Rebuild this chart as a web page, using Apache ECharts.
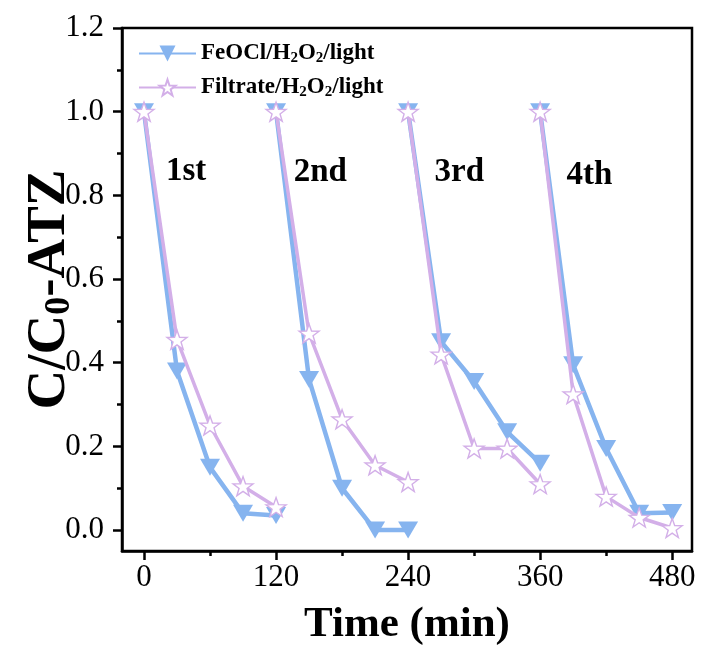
<!DOCTYPE html>
<html>
<head>
<meta charset="utf-8">
<script src="https://cdn.jsdelivr.net/npm/echarts@6/dist/echarts.min.js"></script>
<style>
html,body{margin:0;padding:0;background:#fff;}
#chart{width:702px;height:648px;}
</style>
</head>
<body>
<div id="chart"></div>
<script>
// ---- data ----
var cycleTimes = [
  [0, 30, 60, 90, 120],
  [120, 150, 180, 210, 240],
  [240, 270, 300, 330, 360],
  [360, 390, 420, 450, 480]
];
var feoclValues = [
  [1.0, 0.38, 0.15, 0.04, 0.035],
  [1.0, 0.36, 0.10, 0.0, 0.0],
  [1.0, 0.45, 0.355, 0.235, 0.16],
  [1.0, 0.395, 0.195, 0.04, 0.042]
];
var filtrateValues = [
  [1.0, 0.455, 0.25, 0.105, 0.055],
  [1.0, 0.47, 0.265, 0.155, 0.115],
  [1.0, 0.42, 0.195, 0.195, 0.11],
  [1.0, 0.325, 0.08, 0.03, 0.005]
];
var seriesNames = ['FeOCl/H2O2/light', 'Filtrate/H2O2/light'];
var cycleLabels = ['1st', '2nd', '3rd', '4th'];
var cycleLabelAnchors = [[20, 0.897], [136, 0.893], [264, 0.895], [384, 0.887]];
var xMajorTicks = [0, 120, 240, 360, 480];
var xMinorTicks = [60, 180, 300, 420];
var yMajorTicks = [0.0, 0.2, 0.4, 0.6, 0.8, 1.0, 1.2];
var yMinorTicks = [0.1, 0.3, 0.5, 0.7, 0.9, 1.1];

var FONT = "'Liberation Serif', 'Times New Roman', serif";
var BLUE = '#86b4ef';
var PURPLE = '#d3afe8';
var STAR = 'path://M0,-10 L2.35,-3.24 L9.51,-3.09 L3.8,1.24 L5.88,8.09 L0,4 L-5.88,8.09 L-3.8,1.24 L-9.51,-3.09 L-2.35,-3.24 Z';

function pairs(ti, vals) {
  return ti.map(function (t, i) { return [t, vals[i]]; });
}

var series = [];
cycleTimes.forEach(function (ti, c) {
  series.push({
    name: seriesNames[0], type: 'line', xAxisIndex: 0, yAxisIndex: 0,
    data: pairs(ti, feoclValues[c]),
    symbol: 'triangle', symbolRotate: 180, symbolSize: [20, 17],
    lineStyle: { color: BLUE, width: 4.5 },
    itemStyle: { color: BLUE, borderWidth: 0 },
    z: 2, animation: false
  });
});
cycleTimes.forEach(function (ti, c) {
  series.push({
    name: seriesNames[1], type: 'line', xAxisIndex: 0, yAxisIndex: 0,
    data: pairs(ti, filtrateValues[c]),
    symbol: STAR, symbolSize: 20, symbolKeepAspect: true,
    lineStyle: { color: PURPLE, width: 3.5 },
    itemStyle: { color: '#ffffff', borderColor: PURPLE, borderWidth: 1.4 },
    z: 3, animation: false
  });
});

var chart = echarts.init(document.getElementById('chart'), null, { renderer: 'canvas' });
var option = {
  animation: false,
  backgroundColor: '#ffffff',
  textStyle: { fontFamily: FONT },
  grid: {
    left: 122, right: 10, top: 28, bottom: 97,
    containLabel: false, outerBoundsMode: 'none',
    show: true, borderColor: '#000', borderWidth: 2.5, backgroundColor: 'transparent'
  },
  legend: {
    data: seriesNames,
    orient: 'vertical',
    left: 133, top: 37,
    itemWidth: 57, itemHeight: 20, itemGap: 10,
    textStyle: {
      fontFamily: FONT, fontWeight: 'bold', fontSize: 23, color: '#000',
      rich: {
        sub: { fontFamily: FONT, fontWeight: 'bold', fontSize: 15, color: '#000', verticalAlign: 'bottom', padding: [10, 0, 0, 0] }
      }
    },
    formatter: function (name) {
      return name.replace(/2/g, '{sub|2}');
    }
  },
  xAxis: [{
    type: 'value', min: -20, max: 498, position: 'bottom',
    name: 'Time (min)', nameLocation: 'middle', nameGap: 52, nameMoveOverlap: false,
    nameTextStyle: { fontFamily: FONT, fontWeight: 'bold', fontSize: 43, color: '#000' },
    axisLine: { show: true, onZero: false, lineStyle: { color: '#000', width: 2.5 } },
    axisTick: { show: true, inside: false, length: 9, customValues: xMajorTicks, lineStyle: { color: '#000', width: 2.5 } },
    axisLabel: { show: true, customValues: xMajorTicks, margin: 11, fontFamily: FONT, fontSize: 31, color: '#000' },
    splitLine: { show: false }
  }, {
    type: 'value', min: -20, max: 498, position: 'bottom', gridIndex: 0,
    axisLine: { show: false, onZero: false },
    axisTick: { show: true, inside: false, length: 5, customValues: xMinorTicks, lineStyle: { color: '#000', width: 2.5 } },
    axisLabel: { show: false },
    splitLine: { show: false }
  }],
  yAxis: [{
    type: 'value', min: -0.05, max: 1.2, position: 'left',
    name: 'C/C{sub|0}-ATZ', nameLocation: 'middle', nameGap: 44, nameRotate: 90, nameMoveOverlap: false,
    nameTextStyle: {
      fontFamily: FONT, fontWeight: 'bold', fontSize: 55, color: '#000',
      rich: { sub: { fontFamily: FONT, fontWeight: 'bold', fontSize: 36, color: '#000', verticalAlign: 'bottom', padding: [21, 0, 0, 0] } }
    },
    axisLine: { show: true, onZero: false, lineStyle: { color: '#000', width: 2.5 } },
    axisTick: { show: true, inside: false, length: 9, customValues: yMajorTicks, lineStyle: { color: '#000', width: 2.5 } },
    axisLabel: {
      show: true, customValues: yMajorTicks, margin: 18, fontFamily: FONT, fontSize: 31, color: '#000',
      formatter: function (v) { return v.toFixed(1); }
    },
    splitLine: { show: false }
  }, {
    type: 'value', min: -0.05, max: 1.2, position: 'left', gridIndex: 0,
    axisLine: { show: false, onZero: false },
    axisTick: { show: true, inside: false, length: 5, customValues: yMinorTicks, lineStyle: { color: '#000', width: 2.5 } },
    axisLabel: { show: false },
    splitLine: { show: false }
  }],
  series: series
};
chart.setOption(option);

var graphics = cycleLabels.map(function (txt, i) {
  var p = chart.convertToPixel({ xAxisIndex: 0, yAxisIndex: 0 }, cycleLabelAnchors[i]);
  return {
    type: 'text', x: p[0], y: p[1], z: 10,
    style: { text: txt, fontFamily: FONT, fontWeight: 'bold', fontSize: 33, fill: '#000', align: 'left', verticalAlign: 'top' }
  };
});
chart.setOption({ graphic: graphics });
</script>
</body>
</html>
